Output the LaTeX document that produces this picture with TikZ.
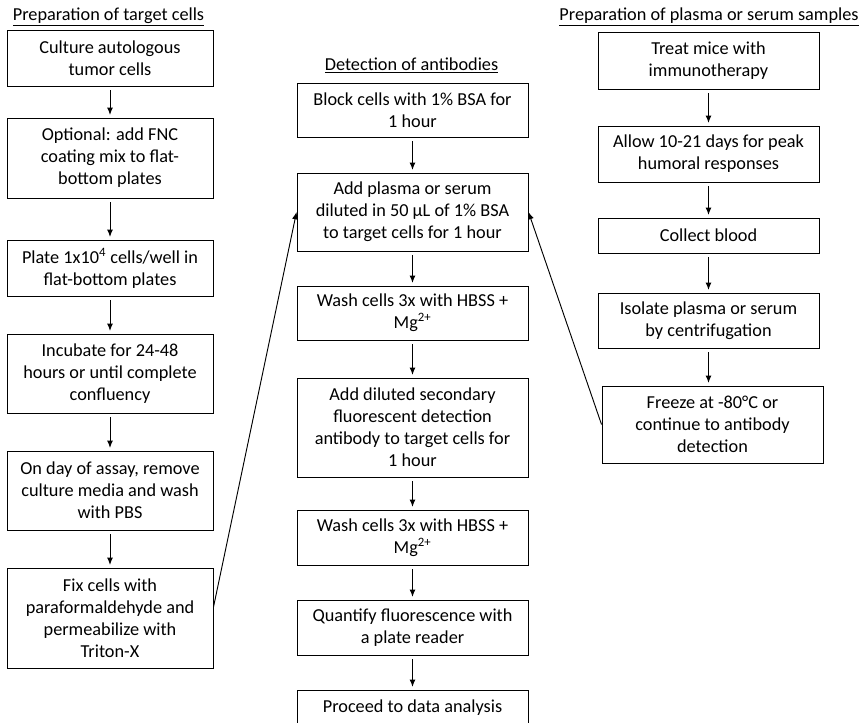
\documentclass[tikz,border=0pt]{standalone}
\usepackage{fontspec}
\setmainfont{Carlito}
\usetikzlibrary{arrows.meta}

\begin{document}
\begin{tikzpicture}[x=0.75pt,y=-0.75pt,
  font=\fontsize{13.7}{16.5}\selectfont,
  box/.style={draw, line width=0.7pt, align=center, inner sep=2pt},
  lbox/.style={box, minimum width=154.5pt},
  mbox/.style={box, minimum width=173.25pt},
  rbox/.style={box, minimum width=165.75pt},
  ht/.style={minimum height=#1*0.75pt},
  head/.style={inner sep=0pt, anchor=base},
  down/.style={-{Latex[length=5.5pt,width=4.5pt]}, line width=0.7pt, shorten <=3pt, shorten >=2pt},
  long/.style={-{Latex[length=5.5pt,width=4.5pt]}, line width=0.7pt}]
\clip (0,0) rectangle (862,722);

% titres des colonnes
\node[head] (tl) at (108.5,20) {\underline{Preparation of target cells}};
\node[head] (tm) at (411.5,70) {\underline{Detection of antibodies}};
\node[head] (tr) at (709,20) {\underline{Preparation of plasma or serum samples}};

% colonne gauche
\node[lbox, ht=56] (l1) at (110,58) {Culture autologous\\tumor cells};
\node[lbox, ht=80] (l2) at (110,158) {Optional: add FNC\\coating mix to flat-\\bottom plates};
\node[lbox, ht=56] (l3) at (110,268) {Plate 1x10\textsuperscript{4} cells/well in\\flat-bottom plates};
\node[lbox, ht=79] (l4) at (110,373.5) {Incubate for 24-48\\hours or until complete\\confluency};
\node[lbox, ht=79] (l5) at (110,490.5) {On day of assay, remove\\culture media and wash\\with PBS};
\node[lbox, ht=100] (l6) at (110,618) {Fix cells with\\paraformaldehyde and\\permeabilize with\\Triton-X};

% colonne du milieu
\node[mbox, ht=54] (m1) at (412.5,110) {Block cells with 1\% BSA for\\1 hour};
\node[mbox, ht=78] (m2) at (412.5,212) {Add plasma or serum\\diluted in 50 µL of 1\% BSA\\to target cells for 1 hour};
\node[mbox, ht=54] (m3) at (412.5,313) {Wash cells 3x with HBSS +\\Mg\textsuperscript{2+}};
\node[mbox, ht=99] (m4) at (412.5,427.5) {Add diluted secondary\\fluorescent detection\\antibody to target cells for\\1 hour};
\node[mbox, ht=55] (m5) at (412.5,537.5) {Wash cells 3x with HBSS +\\Mg\textsuperscript{2+}};
\node[mbox, ht=55] (m6) at (412.5,627.5) {Quantify fluorescence with\\a plate reader};
\node[mbox, ht=35] (m7) at (412.5,707.5) {Proceed to data analysis};

% colonne droite
\node[rbox, ht=57] (r1) at (708.5,60.5) {Treat mice with\\immunotherapy};
\node[rbox, ht=56] (r2) at (708.5,154) {Allow 10-21 days for peak\\humoral responses};
\node[rbox, ht=35] (r3) at (708.5,235.5) {Collect blood};
\node[rbox, ht=55] (r4) at (708.5,320.5) {Isolate plasma or serum\\by centrifugation};
\node[rbox, ht=77] (r5) at (712.5,424.5) {Freeze at -80°C or\\continue to antibody\\detection};

% fleches courtes
\foreach \a/\b in {l1/l2,l2/l3,l3/l4,l4/l5,l5/l6,
                   m1/m2,m2/m3,m3/m4,m4/m5,m5/m6,m6/m7,
                   r1/r2,r2/r3,r3/r4,r4/r5} {
  \draw[down] (\a.south) -- (\a.south |- \b.north);
}

% fleches longues vers le milieu
\draw[long] (l6.6) -- (m2.west);
\draw[long] (r5.west) -- (m2.east);
\end{tikzpicture}
\end{document}
